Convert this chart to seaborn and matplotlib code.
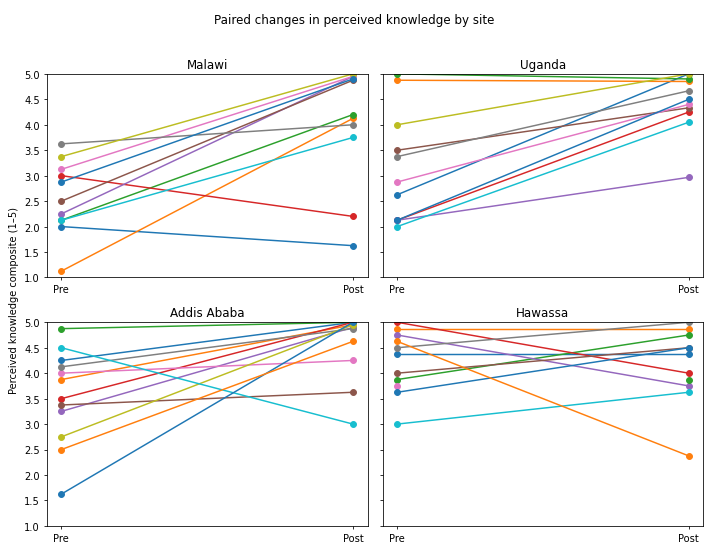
import matplotlib
matplotlib.use("Agg")
import matplotlib.pyplot as plt
import numpy as np
import pandas as pd
import seaborn as sns

sites = ["Malawi", "Uganda", "Addis Ababa", "Hawassa"]
phases = ["Pre", "Post"]
nan = np.nan

# pre / post composite per participant, in plotting order (nan = not answered)
malawi_pre = [2.0, 1.125, 2.125, 3.0, 2.25, 2.5, 3.125, 3.625, 3.375, 2.125, 2.875]
malawi_post = [1.625, 4.125, 4.2, 2.2, 4.95, 4.875, 4.95, 4.0, 5.0, 3.75, 4.9]

uganda_pre = [2.625, 4.875, 5.0, 2.125, 2.125, 3.5, 2.875, 3.375, 4.0, 2.0, 2.125]
uganda_post = [5.0, 4.85, 4.9, 4.25, 2.967, 4.333, 4.4, 4.667, 5.0, 4.05, 4.5]

addis_pre = [4.25, 3.875, 4.875, 3.5, 3.25, 3.375, 4.0, 4.125, 2.75, 4.5, 1.625, 2.5]
addis_post = [5.0, 4.95, 5.0, 5.0, 4.9, 3.625, 4.25, 4.875, 4.95, 3.0, 5.0, 4.625]

hawassa_pre = [4.375, 4.875, 3.875, 5.0, 4.75, 4.0, 3.75, 4.5, nan, 3.0, 3.625, 4.625, nan]
hawassa_post = [4.375, 4.875, 4.75, 4.0, 3.75, 4.5, nan, 5.0, nan, 3.625, 4.5, 2.375, 3.875]

site_pre = [malawi_pre, uganda_pre, addis_pre, hawassa_pre]
site_post = [malawi_post, uganda_post, addis_post, hawassa_post]

rows = []
for site, pre, post in zip(sites, site_pre, site_post):
    for pid, (a, b) in enumerate(zip(pre, post)):
        rows.append({"site": site, "pid": pid, "phase": phases[0], "score": a})
        rows.append({"site": site, "pid": pid, "phase": phases[1], "score": b})
df = pd.DataFrame(rows)

fig, axes = plt.subplots(2, 2, figsize=(10, 7.7), dpi=70.9, sharey=True)
fig.subplots_adjust(left=0.066, right=0.992, top=0.863, bottom=0.035, hspace=0.22, wspace=0.047)

tab10 = sns.color_palette("tab10")
for ax, site in zip(axes.flat, sites):
    d = df[df["site"] == site]
    pids = d["pid"].unique()
    pal = {p: tab10[i % 10] for i, p in enumerate(pids)}
    d = d.dropna(subset=["score"])
    sns.lineplot(data=d, x="phase", y="score", hue="pid", palette=pal, estimator=None,
                 sort=False, marker="o", markersize=6, markeredgewidth=1,
                 markeredgecolor=None, legend=False, ax=ax)
    ax.set_title(site)
    ax.set_xlabel("")
    ax.set_ylabel("")
    ax.set_ylim(1, 5)
    ax.set_yticks([1.0, 1.5, 2.0, 2.5, 3.0, 3.5, 4.0, 4.5, 5.0])

fig.suptitle("Paired changes in perceived knowledge by site", y=0.975)
fig.text(0.012, 0.45, "Perceived knowledge composite (1–5)", rotation=90, va="center", ha="left")
fig.savefig("out.png")
